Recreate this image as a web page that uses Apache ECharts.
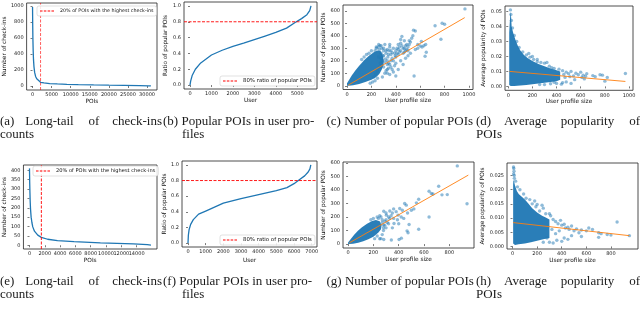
<!DOCTYPE html>
<html><head><meta charset="utf-8">
<script src="https://cdn.jsdelivr.net/npm/echarts@6/dist/echarts.min.js"></script>
<style>html,body{margin:0;padding:0;background:#fff}#c{width:640px;height:317px}</style>
</head><body><div id="c"></div>
<script>
// ---------- data ----------
const aCurve = [[0,990],[40,780],[90,600],[160,450],[250,330],[380,240],[550,170],[800,120],[1100,90],[1500,66],[2100,46],[3000,38],[4500,31],[6500,26],[9000,21],[12000,17],[16000,13],[20000,10],[24000,8],[28000,5],[30500,2],[31000,1]];
const aMark = 2100;
const bCurve = [[0,0],[30,0.05],[100,0.12],[250,0.2],[500,0.28],[1000,0.38],[1500,0.44],[2000,0.49],[2500,0.53],[3000,0.575],[3500,0.62],[4000,0.665],[4500,0.72],[4900,0.79],[5200,0.84],[5450,0.89],[5580,0.94],[5640,1.0]];
const bMark = 0.8;
const eCurve = [[0,410],[30,330],[60,280],[90,235],[140,190],[215,150],[320,120],[430,98],[650,75],[1080,54],[1550,42],[2370,32],[3660,25],[5820,19.5],[9270,12.5],[13580,7],[15400,3],[15870,1]];
const eMark = 1550;
const fCurve = [[0,0],[20,0.1],[60,0.17],[150,0.24],[300,0.3],[600,0.37],[1000,0.41],[1500,0.46],[2000,0.51],[3000,0.57],[4000,0.62],[5000,0.67],[5600,0.71],[6000,0.76],[6300,0.81],[6600,0.86],[6800,0.91],[6900,0.95],[6950,1.0]];
const fMark = 0.8;

const cCore = [[0,0],[0,20],[15,45],[40,85],[70,125],[100,160],[140,205],[180,240],[220,268],[250,282],[275,278],[290,250],[300,210],[300,170],[285,130],[265,95],[240,70],[200,48],[150,30],[100,15],[50,5],[15,0]];
const cPts = [[967,615],[800,492],[780,500],[722,480],[770,372],[650,268],[640,236],[645,330],[630,320],[615,310],[600,318],[580,300],[560,290],[545,445],[560,438],[520,350],[510,330],[500,310],[490,290],[480,320],[470,270],[460,300],[450,395],[440,340],[430,310],[420,290],[410,260],[400,280],[395,240],[380,300],[370,265],[360,250],[350,310],[345,280],[335,230],[330,290],[320,260],[315,215],[310,330],[300,280],[295,240],[290,200],[285,300],[280,260],[275,180],[270,150],[265,290],[255,310],[250,120],[240,300],[235,95],[230,280],[220,70],[460,170],[440,200],[480,220],[420,130],[400,78],[380,110],[360,150],[340,180],[330,130],[310,100],[300,150],[290,70],[550,78],[500,240],[520,260],[580,330],[610,355],[530,380],[470,360],[440,370],[350,330],[270,320],[250,60],[230,40],[210,30],[190,20],
  [260,230],[280,220],[300,240],[320,280],[330,200],[340,250],[360,280],[370,220],[390,260],[410,300],[420,330],[430,270],[450,320],[470,300],[490,330],[510,360],[540,400],[300,300],[280,320],[260,330],[240,310],[200,280],[180,260],[160,250],[140,230],[120,210],[320,120],[340,140],[360,200],[380,200],[400,230],[420,250],[440,280],[460,260],[480,280],[500,280],[330,100],[350,90],[370,130],[390,160],[400,180],[350,170],[310,190],[330,170]];
const cFit = [[10,5],[965,545]];

const dCore = [[8,0.001],[8,0.036],[12,0.042],[16,0.047],[20,0.05],[24,0.046],[28,0.04],[40,0.036],[60,0.031],[80,0.027],[100,0.024],[130,0.021],[160,0.019],[200,0.017],[250,0.015],[300,0.0135],[350,0.012],[400,0.0108],[430,0.01],[430,0.0045],[400,0.0035],[350,0.003],[300,0.0025],[250,0.002],[200,0.0015],[150,0.001],[100,0.0006],[50,0.0003],[20,0.0002]];
const dPts = [[18,0.051],[22,0.048],[26,0.044],[35,0.039],[50,0.034],[70,0.03],[90,0.026],[120,0.023],[150,0.021],[180,0.0195],[210,0.018],[240,0.0165],[270,0.016],[300,0.0155],[320,0.016],[340,0.0135],[360,0.0125],[380,0.012],[420,0.0115],[450,0.0105],[460,0.008],[470,0.006],[480,0.0095],[500,0.0085],[510,0.0065],[520,0.01],[540,0.007],[550,0.0045],[560,0.0088],[580,0.0078],[600,0.0095],[610,0.006],[620,0.0075],[630,0.005],[640,0.0068],[650,0.0085],[480,0.003],[520,0.002],[450,0.0025],[700,0.0072],[720,0.0065],[760,0.0078],[780,0.0075],[800,0.0035],[820,0.006],[970,0.0086],[440,0.0015],[400,0.002],[380,0.0028],[350,0.0018],[300,0.0012],[260,0.0012],[240,0.018],[200,0.02],[170,0.022]];
const dFit = [[10,0.0100],[970,0.0033]];

const gCore = [[0,0],[0,12],[20,35],[50,70],[80,100],[110,125],[150,150],[190,170],[220,178],[250,168],[265,140],[260,110],[240,85],[200,55],[160,35],[120,20],[80,10],[40,3],[10,0]];
const gPts = [[863,578],[940,298],[716,428],[640,391],[658,374],[671,370],[742,364],[784,366],[558,332],[540,305],[640,200],[558,110],[466,98],[474,84],[482,145],[447,300],[460,288],[408,263],[429,250],[395,214],[363,152],[282,243],[303,214],[329,189],[421,44],[403,34],[342,30],[250,39],[282,34],[270,180],[290,170],[310,160],[320,200],[340,210],[350,230],[360,190],[380,240],[300,120],[280,100],[270,70],[350,120],[390,180],[420,200],[440,190],[470,230],[500,250],[520,260],[360,260],[330,245],[300,230],[260,200],[240,190],[230,60],[210,40],[280,140],[320,150],[400,150],[260,40],[230,200],[250,210],[270,160],[290,140],[300,180],[240,120],[280,120],[200,190],[180,180]];
const gFit = [[10,9],[950,510]];

const hCore = [[5,0.001],[5,0.022],[8,0.0235],[12,0.023],[20,0.0215],[35,0.0195],[50,0.0185],[75,0.0175],[100,0.0165],[130,0.015],[160,0.0135],[200,0.012],[240,0.0108],[270,0.0102],[300,0.0095],[300,0.003],[250,0.0025],[200,0.002],[150,0.0015],[100,0.001],[50,0.0008],[20,0.0005]];
const hPts = [[8,0.028],[10,0.0275],[12,0.0265],[9,0.0255],[14,0.025],[15,0.024],[25,0.023],[40,0.021],[60,0.02],[90,0.0185],[110,0.017],[140,0.0165],[160,0.015],[190,0.014],[220,0.0125],[250,0.0135],[270,0.0115],[300,0.0115],[310,0.0108],[330,0.0095],[350,0.0088],[370,0.008],[390,0.0092],[400,0.0075],[420,0.0078],[430,0.0065],[450,0.0068],[460,0.006],[480,0.0072],[500,0.0055],[520,0.0062],[540,0.0048],[560,0.0058],[600,0.0055],[620,0.0065],[650,0.006],[700,0.0048],[720,0.0045],[770,0.0042],[800,0.004],[850,0.0086],[950,0.0038],[450,0.0025],[400,0.0018],[420,0.003],[360,0.0022],[330,0.0012],[300,0.0015],[280,0.003],[250,0.0015],[350,0.0045],[320,0.006],[380,0.0055],[480,0.0038],[560,0.0035],[700,0.0032],[240,0.0145],[200,0.0148],[180,0.016]];
const hFit = [[5,0.0084],[950,0.0038]];

// tick labels
const aXT=[0,5000,10000,15000,20000,25000,30000], aYT=[0,200,400,600,800,1000];
const bXT=[0,1000,2000,3000,4000,5000], bYT=[0,0.2,0.4,0.6,0.8,1.0];
const cXT=[0,200,400,600,800,1000], cYT=[0,100,200,300,400,500,600];
const dXT=[0,200,400,600,800,1000], dYT=[0,0.01,0.02,0.03,0.04,0.05];
const eXT=[0,2000,4000,6000,8000,10000,12000,14000,16000], eYT=[0,50,100,150,200,250,300,350,400];
const fXT=[0,1000,2000,3000,4000,5000,6000,7000], fYT=[0,0.2,0.4,0.6,0.8,1.0];
const gXT=[0,200,400,600,800], gYT=[0,100,200,300,400,500,600];
const hXT=[0,200,400,600,800], hYT=[0,0.005,0.01,0.015,0.02,0.025];

const legA = '20% of POIs with the highest check-ins';
const legB = '80% ratio of popular POIs';

// ---------- layout ----------
const F = 'DejaVu Sans';
const BLUE = '#1f77b4', ORANGE = '#ff7f0e', RED = '#ff0000';
const grids = [
  {left:25, top:3, width:132, height:87},
  {left:184, top:2, width:133, height:87},
  {left:343, top:5, width:130, height:84.5},
  {left:505, top:6, width:128, height:84.3},
  {left:22, top:165, width:135, height:84},
  {left:182, top:161, width:135, height:86},
  {left:343, top:162, width:131, height:86},
  {left:507, top:163, width:131, height:86}
].map(g => Object.assign(g, {show:true, borderColor:'#222', borderWidth:0.8, backgroundColor:'#fff', containLabel:false}));

function ax(gi, min, max, ticks, name, dec, gap, isY) {
  return {type:'value', gridIndex:gi, min:min, max:max, name:name, nameLocation:'middle', nameGap:gap,
    nameTextStyle:{fontFamily:F, fontSize:5.8, color:'#111'},
    axisLine:{show:false}, splitLine:{show:false},
    axisTick:{show:true, length:2, customValues:ticks, lineStyle:{color:'#222', width:0.6}},
    axisLabel:{customValues:ticks, fontFamily:F, fontSize:5, color:'#222', margin: isY ? 3 : 2.5,
      formatter: v => dec ? Number(v).toFixed(dec) : String(Math.round(v))}};
}
const xAxis = [
  ax(0,-1550,32600,aXT,'POIs',0,7),
  ax(1,-280,5920,bXT,'User',0,8),
  ax(2,-33,1033,cXT,'User profile size',0,7.5),
  ax(3,-27,1033,dXT,'User profile size',0,6.5),
  ax(4,-790,16660,eXT,'POIs',0,8),
  ax(5,-340,7300,fXT,'User',0,10),
  ax(6,-40,995,gXT,'User profile size',0,8),
  ax(7,-45,1020,hXT,'User profile size',0,8)
];
const yAxis = [
  ax(0,-50,1040,aYT,'Number of check-ins',0,15.5,true),
  ax(1,-0.05,1.05,bYT,'Ratio of popular POIs',1,15.5,true),
  ax(2,-30,646,cYT,'Number of popular POIs',0,15.5,true),
  ax(3,-0.0026,0.0536,dYT,'Average popularity of POIs',2,13,true),
  ax(4,-20,428,eYT,'Number of check-ins',0,14,true),
  ax(5,-0.05,1.05,fYT,'Ratio of popular POIs',1,13.5,true),
  ax(6,-29,607,gYT,'Number of popular POIs',0,15.5,true),
  ax(7,-0.0009,0.0294,hYT,'Average popularity of POIs',3,19,true)
];

function curve(gi, data) {
  return {type:'line', xAxisIndex:gi, yAxisIndex:gi, data:data, symbol:'none', silent:true, z:3,
    lineStyle:{color:BLUE, width:1.3}};
}
function dashed(gi, name, data, op) {
  return {type:'line', name:name, xAxisIndex:gi, yAxisIndex:gi, data:data, symbol:'none', silent:true, z:4,
    itemStyle:{color:RED}, lineStyle:{color:RED, width:0.9, type:[3,1.5], opacity:op}};
}
function core(gi, pts) {
  return {type:'custom', xAxisIndex:gi, yAxisIndex:gi, data:[pts[0]], silent:true, clip:true, z:2,
    renderItem:(p, api) => ({type:'polygon', shape:{points: pts.map(q => api.coord(q))},
      style:{fill:BLUE, opacity:0.95}})};
}
function pts(gi, data) {
  return {type:'scatter', xAxisIndex:gi, yAxisIndex:gi, data:data, symbolSize:3.4, silent:true, z:2,
    itemStyle:{color:BLUE, opacity:0.5}};
}
function fit(gi, data) {
  return {type:'line', xAxisIndex:gi, yAxisIndex:gi, data:data, symbol:'none', silent:true, z:5,
    lineStyle:{color:ORANGE, width:0.9}};
}

const series = [
  curve(0, aCurve), dashed(0, legA, [[aMark,-50],[aMark,1040]], 0.7),
  curve(1, bCurve), dashed(1, legB, [[-280,bMark],[5920,bMark]], 1),
  core(2, cCore), pts(2, cPts), fit(2, cFit),
  core(3, dCore), pts(3, dPts), fit(3, dFit),
  curve(4, eCurve), dashed(4, legA, [[eMark,-20],[eMark,428]], 1),
  curve(5, fCurve), dashed(5, legB, [[-340,fMark],[7300,fMark]], 1),
  core(6, gCore), pts(6, gPts), fit(6, gFit),
  core(7, hCore), pts(7, hPts), fit(7, hFit)
];

const DASH_ICON = 'path://M0,0h3v1h-3z M4.5,0h3v1h-3z M9,0h3v1h-3z M13.5,0h3v1h-3z';
function leg(name, left, top, fs) {
  return {data:[{name:name, icon:DASH_ICON, itemStyle:{color:RED}}], left:left, top:top, orient:'horizontal',
    itemWidth:14, itemHeight:1, itemGap:2,
    padding:[2.5,3,2.5,3], borderColor:'#ccc', borderWidth:0.6, borderRadius:2,
    backgroundColor:'rgba(255,255,255,0.85)', selectedMode:false, z:6,
    textStyle:{fontFamily:F, fontSize:fs, color:'#111', padding:[0,0,0,1]}};
}
const legend = [leg(legA,37,6,4.8), leg(legB,220,76,5.4), leg(legA,33,166,5.1), leg(legB,220,235,5.4)];

// captions
const L1 = 121.5, L2 = 134.5, M1 = 281.5, M2 = 294.5;
const capWords = [
  ['(a)',0,L1,'left'],['Long-tail',49.5,L1,'center'],['of',94,L1,'center'],['check-ins',162,L1,'right'],
  ['(b) Popular POIs in user pro-',163,L1,'left'],['(c) Number of popular POIs',326.5,L1,'left'],
  ['(d)',476,L1,'left'],['Average',525.5,L1,'center'],['popularity',587.5,L1,'center'],['of',640,L1,'right'],
  ['counts',0,L2,'left'],['files',182,L2,'left'],['POIs',476,L2,'left'],
  ['(e)',0,M1,'left'],['Long-tail',49.5,M1,'center'],['of',94,M1,'center'],['check-ins',162,M1,'right'],
  ['(f) Popular POIs in user pro-',163,M1,'left'],['(g) Number of popular POIs',326.5,M1,'left'],
  ['(h)',476,M1,'left'],['Average',525.5,M1,'center'],['popularity',587.5,M1,'center'],['of',640,M1,'right'],
  ['counts',0,M2,'left'],['files',182,M2,'left'],['POIs',476,M2,'left']
];
const graphic = capWords.map(w => ({type:'text', x:w[1], y:w[2], silent:true,
  style:{text:w[0], font:'13px "Liberation Serif"', fill:'#1a1a1a', align:w[3], verticalAlign:'middle'}}));

const chart = echarts.init(document.getElementById('c'), null, {renderer:'canvas', width:640, height:317});
chart.setOption({animation:false, backgroundColor:'#fff', grid:grids, xAxis:xAxis, yAxis:yAxis,
  series:series, legend:legend, graphic:graphic});
</script></body></html>
